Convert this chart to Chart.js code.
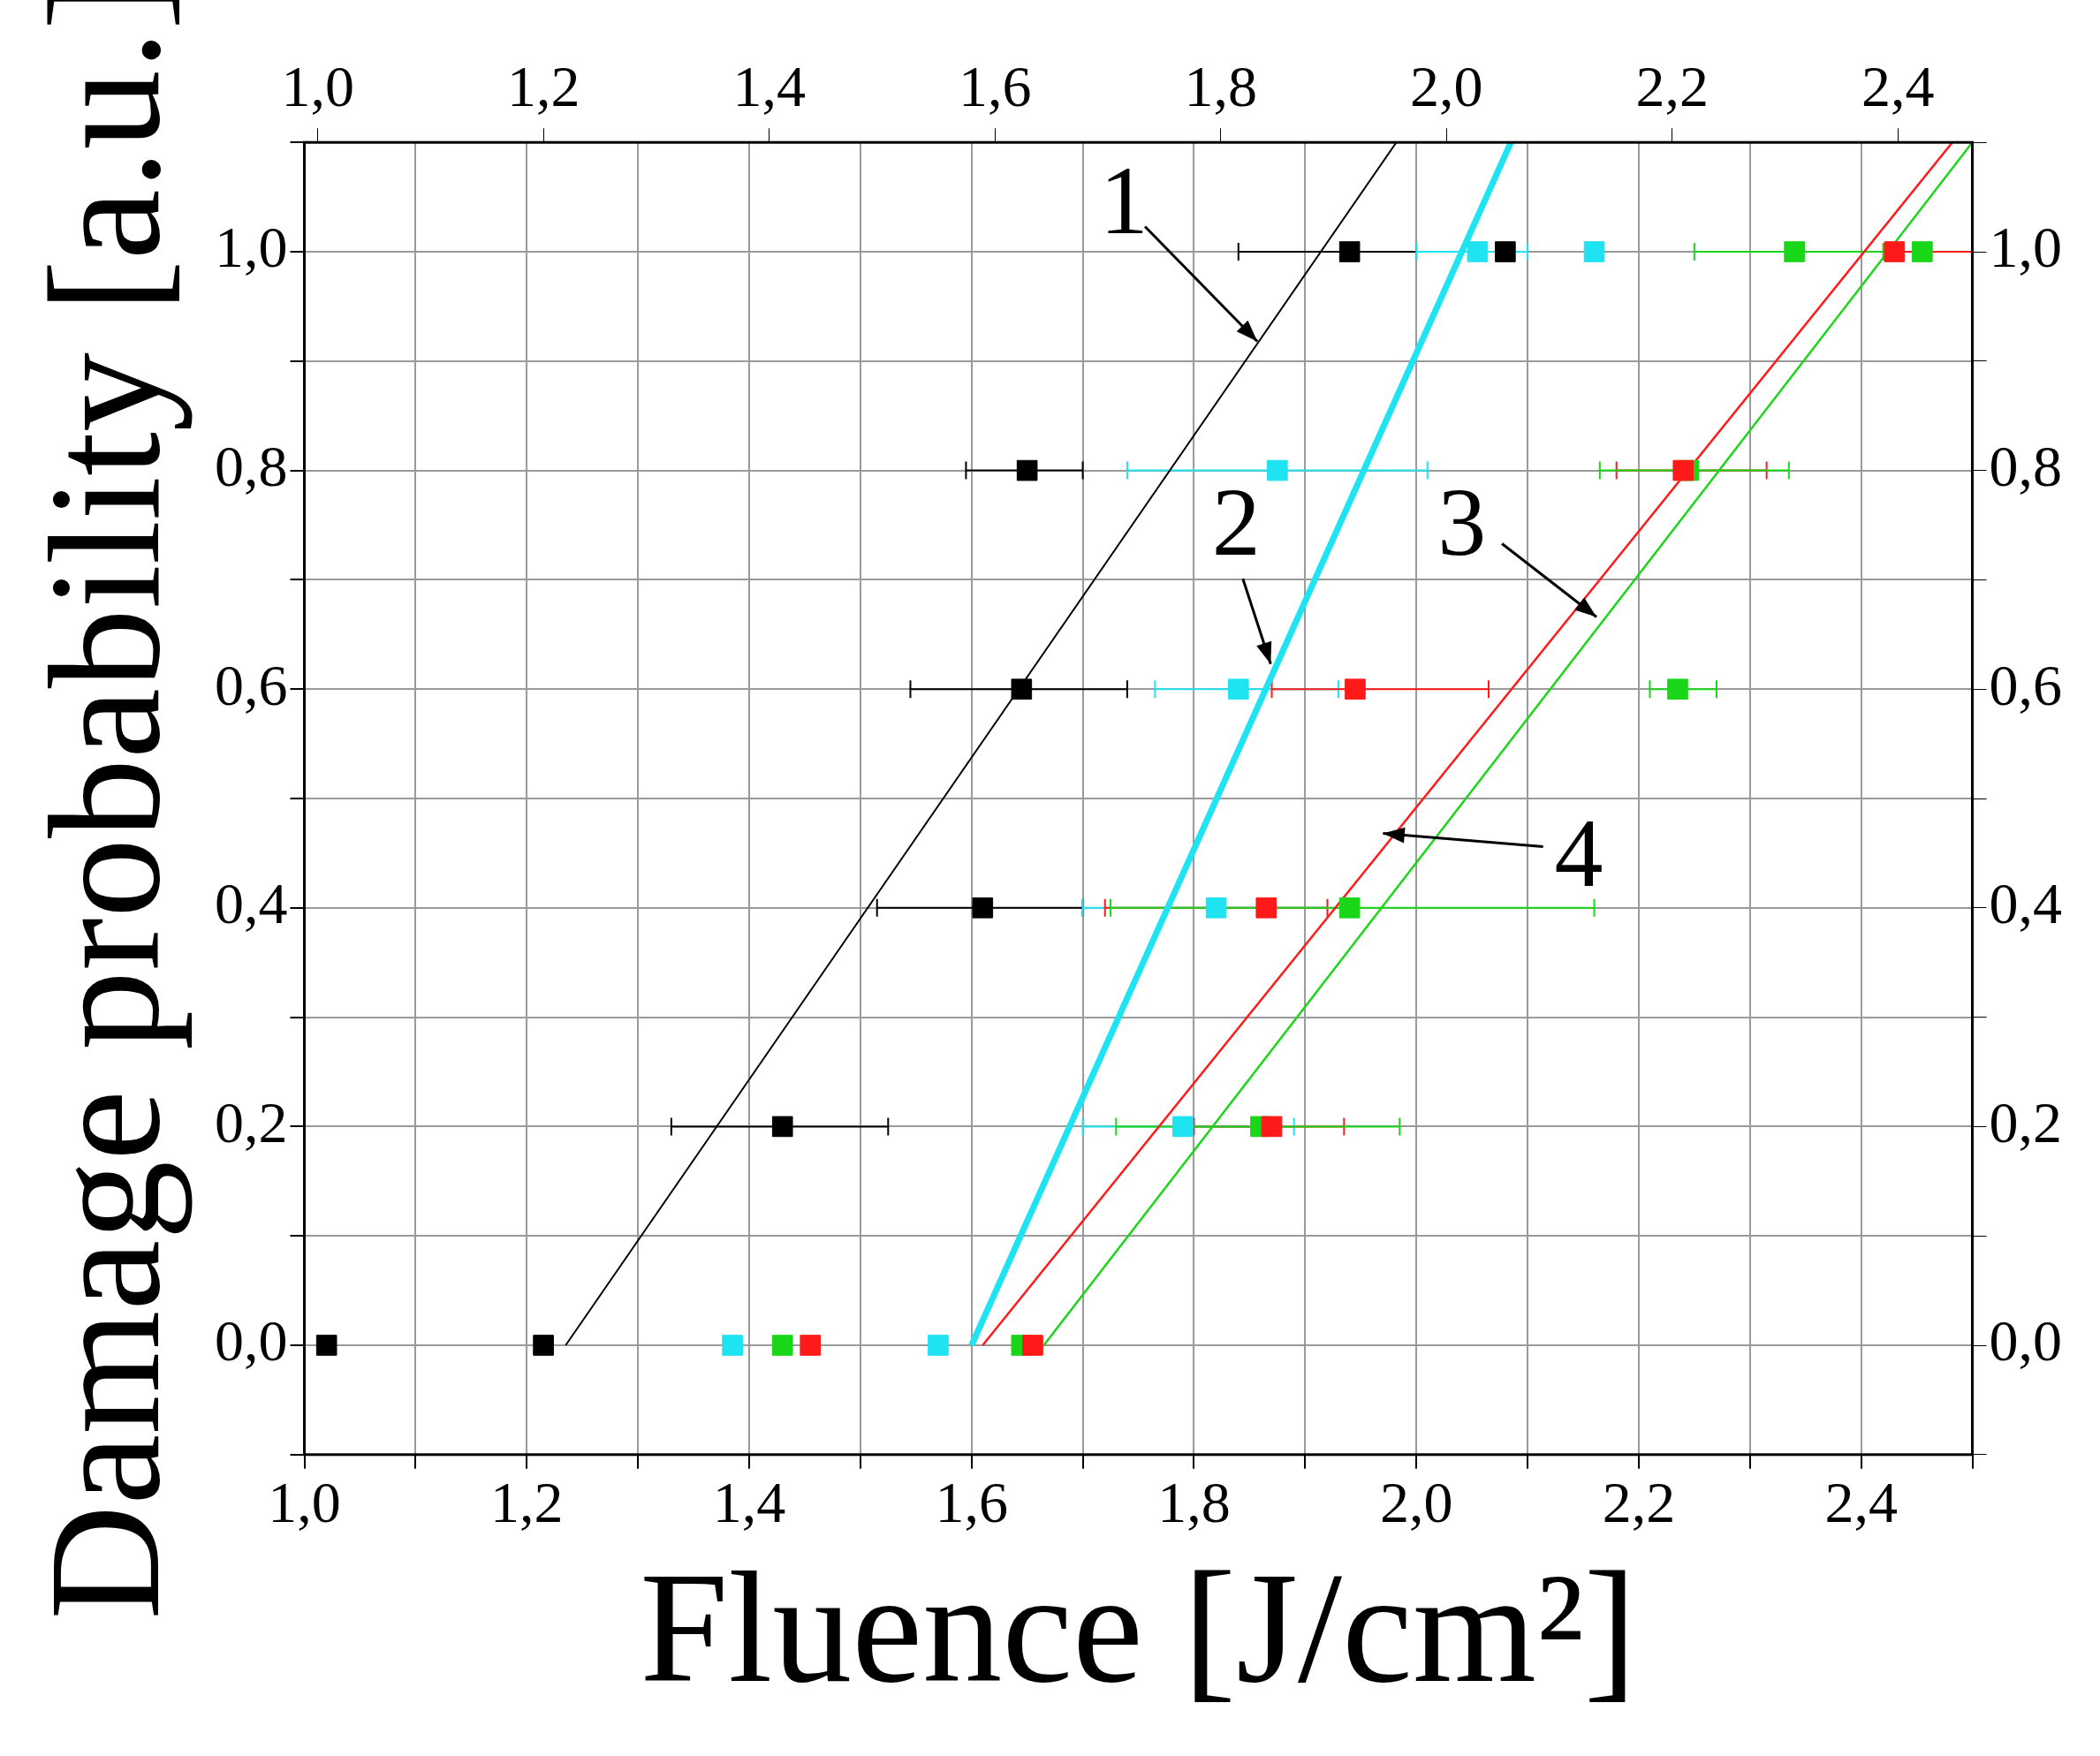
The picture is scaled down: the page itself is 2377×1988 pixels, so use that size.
<!DOCTYPE html>
<html>
<head>
<meta charset="utf-8">
<script src="https://cdn.jsdelivr.net/npm/chart.js@4"></script>
<style>
  body { margin: 0; background: #fff; }
  #wrap { width: 2377px; height: 1988px; }
</style>
</head>
<body>
<div id="wrap"><canvas id="chart"></canvas></div>
<script>
// measured points, x = fluence, y = probability, lo/hi = horizontal error bar ends
var blackX = [1.02, 1.215, 1.43, 1.61, 1.645, 1.65, 1.94, 2.08];
var blackY = [0, 0, 0.2, 0.4, 0.6, 0.8, 1.0, 1.0];
var blackLo = [null, null, 1.33, 1.515, 1.545, 1.595, 1.84, null];
var blackHi = [null, null, 1.525, 1.70, 1.74, 1.70, 2.0, null];

var cyanX = [1.385, 1.57, 1.79, 1.82, 1.84, 1.875, 2.055, 2.16];
var cyanY = [0, 0, 0.2, 0.4, 0.6, 0.8, 1.0, 1.0];
var cyanLo = [null, null, 1.70, 1.70, 1.765, 1.74, 2.0, null];
var cyanHi = [null, null, 1.89, 1.94, 1.93, 2.01, 2.1, null];

var redX = [1.455, 1.655, 1.87, 1.865, 1.945, 2.24, 2.43];
var redY = [0, 0, 0.2, 0.4, 0.6, 0.8, 1.0];
var redLo = [null, null, 1.80, 1.72, 1.87, 2.18, 2.42];
var redHi = [null, null, 1.935, 1.92, 2.065, 2.315, 2.5];

var greenX = [1.43, 1.645, 1.86, 1.94, 2.235, 2.245, 2.34, 2.455];
var greenY = [0, 0, 0.2, 0.4, 0.6, 0.8, 1.0, 1.0];
var greenLo = [null, null, 1.73, 1.725, 2.21, 2.165, 2.25, null];
var greenHi = [null, null, 1.985, 2.16, 2.27, 2.335, 2.42, null];

// fitted lines (start, end)
var blackFit = [[1.235, 0], [1.982, 1.1]];
var cyanFit = [[1.60, 0], [2.085, 1.1]];
var redFit = [[1.61, 0], [2.482, 1.1]];
var greenFit = [[1.665, 0], [2.50, 1.1]];

// curve labels: text, label pos, arrow start, arrow end
var labelText = ['1', '2', '3', '4'];
var labelPos = [[1.737, 1.04], [1.838, 0.746], [2.041, 0.746], [2.146, 0.443]];
var arrowFrom = [[1.756, 1.023], [1.844, 0.701], [2.077, 0.733], [2.114, 0.456]];
var arrowTo = [[1.857, 0.918], [1.869, 0.623], [2.162, 0.666], [1.97, 0.468]];

var xTicks = [1.0, 1.2, 1.4, 1.6, 1.8, 2.0, 2.2, 2.4];
var yTicks = [0, 0.2, 0.4, 0.6, 0.8, 1.0];

function pts(xs, ys) {
  return xs.map(function(x, i) { return { x: x, y: ys[i] }; });
}
function fit(p) {
  return p.map(function(q) { return { x: q[0], y: q[1] }; });
}
function comma(v) { return v.toFixed(1).replace('.', ','); }

var COLORS = { black: '#000000', cyan: '#1fe3f0', red: '#ff1a1a', green: '#19d619' };

var errSets = [
  { c: COLORS.black, x: blackX, y: blackY, lo: blackLo, hi: blackHi },
  { c: COLORS.cyan, x: cyanX, y: cyanY, lo: cyanLo, hi: cyanHi },
  { c: COLORS.red, x: redX, y: redY, lo: redLo, hi: redHi },
  { c: COLORS.green, x: greenX, y: greenY, lo: greenLo, hi: greenHi }
];

var errorBars = {
  id: 'errorBars',
  beforeDatasetsDraw: function(chart) {
    var ctx = chart.ctx, sx = chart.scales.x, sy = chart.scales.y;
    ctx.save();
    ctx.lineWidth = 2;
    errSets.forEach(function(s) {
      ctx.strokeStyle = s.c;
      s.x.forEach(function(x, i) {
        if (s.lo[i] == null) return;
        var py = sy.getPixelForValue(s.y[i]);
        var a = sx.getPixelForValue(s.lo[i]), b = sx.getPixelForValue(s.hi[i]);
        ctx.beginPath();
        ctx.moveTo(a, py); ctx.lineTo(b, py);
        ctx.moveTo(a, py - 10); ctx.lineTo(a, py + 10);
        ctx.moveTo(b, py - 10); ctx.lineTo(b, py + 10);
        ctx.stroke();
      });
    });
    ctx.restore();
  }
};

var labels = {
  id: 'labels',
  afterDatasetsDraw: function(chart) {
    var ctx = chart.ctx, sx = chart.scales.x, sy = chart.scales.y;
    ctx.save();
    ctx.fillStyle = '#000';
    ctx.strokeStyle = '#000';
    ctx.lineWidth = 3;
    ctx.font = '110px "Liberation Serif"';
    ctx.textAlign = 'center';
    ctx.textBaseline = 'middle';
    labelText.forEach(function(t, i) {
      ctx.fillText(t, sx.getPixelForValue(labelPos[i][0]), sy.getPixelForValue(labelPos[i][1]));
      var x1 = sx.getPixelForValue(arrowFrom[i][0]), y1 = sy.getPixelForValue(arrowFrom[i][1]);
      var x2 = sx.getPixelForValue(arrowTo[i][0]), y2 = sy.getPixelForValue(arrowTo[i][1]);
      ctx.beginPath(); ctx.moveTo(x1, y1); ctx.lineTo(x2, y2); ctx.stroke();
      var ang = Math.atan2(y2 - y1, x2 - x1);
      ctx.beginPath();
      ctx.moveTo(x2, y2);
      ctx.lineTo(x2 - 26 * Math.cos(ang - 0.35), y2 - 26 * Math.sin(ang - 0.35));
      ctx.lineTo(x2 - 26 * Math.cos(ang + 0.35), y2 - 26 * Math.sin(ang + 0.35));
      ctx.closePath();
      ctx.fill();
    });
    ctx.restore();
  }
};

var frame = {
  id: 'frame',
  afterDraw: function(chart) {
    var a = chart.chartArea, ctx = chart.ctx;
    ctx.save();
    ctx.strokeStyle = '#000';
    ctx.lineWidth = 3;
    ctx.strokeRect(a.left, a.top, a.right - a.left, a.bottom - a.top);
    ctx.restore();
  }
};

function scatter(data, color) {
  return { type: 'scatter', data: data, backgroundColor: color, borderColor: color,
    pointStyle: 'rect', pointRadius: 16, pointHoverRadius: 16, order: 1 };
}
function line(data, color, w) {
  return { type: 'line', data: data, borderColor: color, borderWidth: w,
    pointRadius: 0, fill: false, order: 2 };
}

var tickFont = { family: 'Liberation Serif', size: 66 };
var gridStyle = { color: '#9a9a9a', lineWidth: 2, drawTicks: true, tickLength: 16, tickColor: '#000' };

new Chart(document.getElementById('chart'), {
  data: {
    datasets: [
      line(fit(blackFit), COLORS.black, 2),
      line(fit(cyanFit), COLORS.cyan, 7),
      line(fit(redFit), COLORS.red, 2.5),
      line(fit(greenFit), COLORS.green, 2.5),
      scatter(pts(blackX, blackY), COLORS.black),
      scatter(pts(cyanX, cyanY), COLORS.cyan),
      scatter(pts(redX, redY), COLORS.red),
      scatter(pts(greenX, greenY), COLORS.green)
    ]
  },
  options: {
    responsive: true,
    maintainAspectRatio: false,
    animation: false,
    layout: { padding: { left: 20, right: 40, top: 60, bottom: 20 } },
    plugins: { legend: { display: false }, tooltip: { enabled: false } },
    scales: {
      x: {
        type: 'linear', position: 'bottom', min: 1.0, max: 2.5,
        ticks: { stepSize: 0.1, font: tickFont, color: '#000', maxRotation: 0,
          callback: function(v) { return Math.round(v * 10) % 2 === 0 ? comma(v) : ''; } },
        grid: gridStyle,
        border: { display: false },
        title: { display: true, text: 'Fluence [J/cm²]', font: { family: 'Liberation Serif', size: 180 }, color: '#000', padding: { top: 0 } }
      },
      x2: {
        type: 'linear', position: 'top', min: 0.988, max: 2.466,
        afterBuildTicks: function(s) { s.ticks = xTicks.map(function(v) { return { value: v }; }); },
        ticks: { font: tickFont, color: '#000', maxRotation: 0, callback: function(v) { return comma(v); } },
        grid: { drawOnChartArea: false, tickLength: 16, tickColor: '#000' },
        border: { display: false }
      },
      y: {
        type: 'linear', position: 'left', min: -0.1, max: 1.1,
        ticks: { stepSize: 0.1, font: tickFont, color: '#000',
          callback: function(v) { var r = Math.round(v * 10); return (r % 2 === 0 && r >= 0 && r <= 10) ? comma(v) : ''; } },
        grid: gridStyle,
        border: { display: false },
        title: { display: true, text: 'Damage probability [a.u.]', font: { family: 'Liberation Serif', size: 180 }, color: '#000', padding: { bottom: 0 } }
      },
      y2: {
        type: 'linear', position: 'right', min: -0.1, max: 1.1,
        afterBuildTicks: function(s) { s.ticks = [-0.1,0,0.1,0.2,0.3,0.4,0.5,0.6,0.7,0.8,0.9,1.0,1.1].map(function(v) { return { value: v }; }); },
        ticks: { font: tickFont, color: '#000',
          callback: function(v) { var r = Math.round(v * 10); return (r % 2 === 0 && r >= 0 && r <= 10) ? comma(v) : ''; } },
        grid: { drawOnChartArea: false, tickLength: 16, tickColor: '#000' },
        border: { display: false }
      }
    }
  },
  plugins: [errorBars, labels, frame]
});
</script>
</body>
</html>
